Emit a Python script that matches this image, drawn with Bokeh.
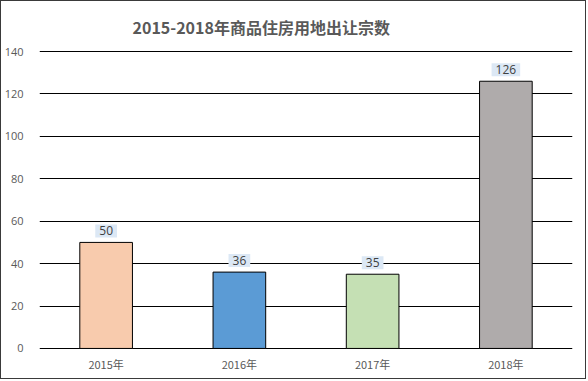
from bokeh.plotting import figure
from bokeh.models import ColumnDataSource, Range1d, FixedTicker
from bokeh.core.properties import value
from bokeh.embed import file_html
from bokeh.resources import INLINE

years = ["2015年", "2016年", "2017年", "2018年"]
counts = [50, 36, 35, 126]
colors = ["#f8cbad", "#5b9bd5", "#c5e0b4", "#afabab"]
y_ticks = [0, 20, 40, 60, 80, 100, 120, 140]
title_text = "2015-2018年商品住房用地出让宗数"

src = ColumnDataSource(dict(x=years, y=counts, c=colors, lbl=[str(v) for v in counts]))

p = figure(x_range=years, y_range=Range1d(-0.5, 140.5), width=586, height=379,
           output_backend="svg", toolbar_location=None,
           min_border_left=35, min_border_right=15, min_border_top=49, min_border_bottom=31)
p.styles = {"border": "1px solid #3a3a3a"}
p.outline_line_color = None
p.background_fill_color = "white"
p.border_fill_color = "white"

p.vbar(x="x", top="y", width=0.395, fill_color="c", line_color="black", line_width=1, source=src)

p.text(x="x", y="y", text="lbl", source=src, text_align="center", text_baseline="bottom",
       y_offset=-5, text_font_size="12px", text_color="#404040", text_font=value("Open Sans"),
       background_fill_color="#dce8f5", padding=(4, 2))

p.title.text = title_text
p.title.align = "left"
p.title.offset = 93
p.title.text_font = "Noto Sans CJK SC"
p.title.text_font_size = "16px"
p.title.text_font_style = "bold"
p.title.text_color = "#595959"
p.title.standoff = 23

p.yaxis.ticker = FixedTicker(ticks=y_ticks)
p.yaxis.axis_line_color = None
p.yaxis.major_tick_line_color = None
p.yaxis.minor_tick_line_color = None
p.yaxis.major_label_standoff = 10
p.yaxis.major_label_text_font = "Open Sans"
p.yaxis.major_label_text_font_size = "11px"
p.yaxis.major_label_text_color = "#595959"

p.xaxis.axis_line_color = None
p.xaxis.major_tick_line_color = None
p.xaxis.major_label_standoff = 0
p.xaxis.major_label_text_font = "Noto Sans CJK SC"
p.xaxis.major_label_text_font_size = "11px"
p.xaxis.major_label_text_color = "#595959"

p.xgrid.grid_line_color = None
p.ygrid.grid_line_color = "black"
p.ygrid.grid_line_width = 1.2
p.ygrid.ticker = FixedTicker(ticks=y_ticks)

open("out.html", "w").write(file_html(p, INLINE))
